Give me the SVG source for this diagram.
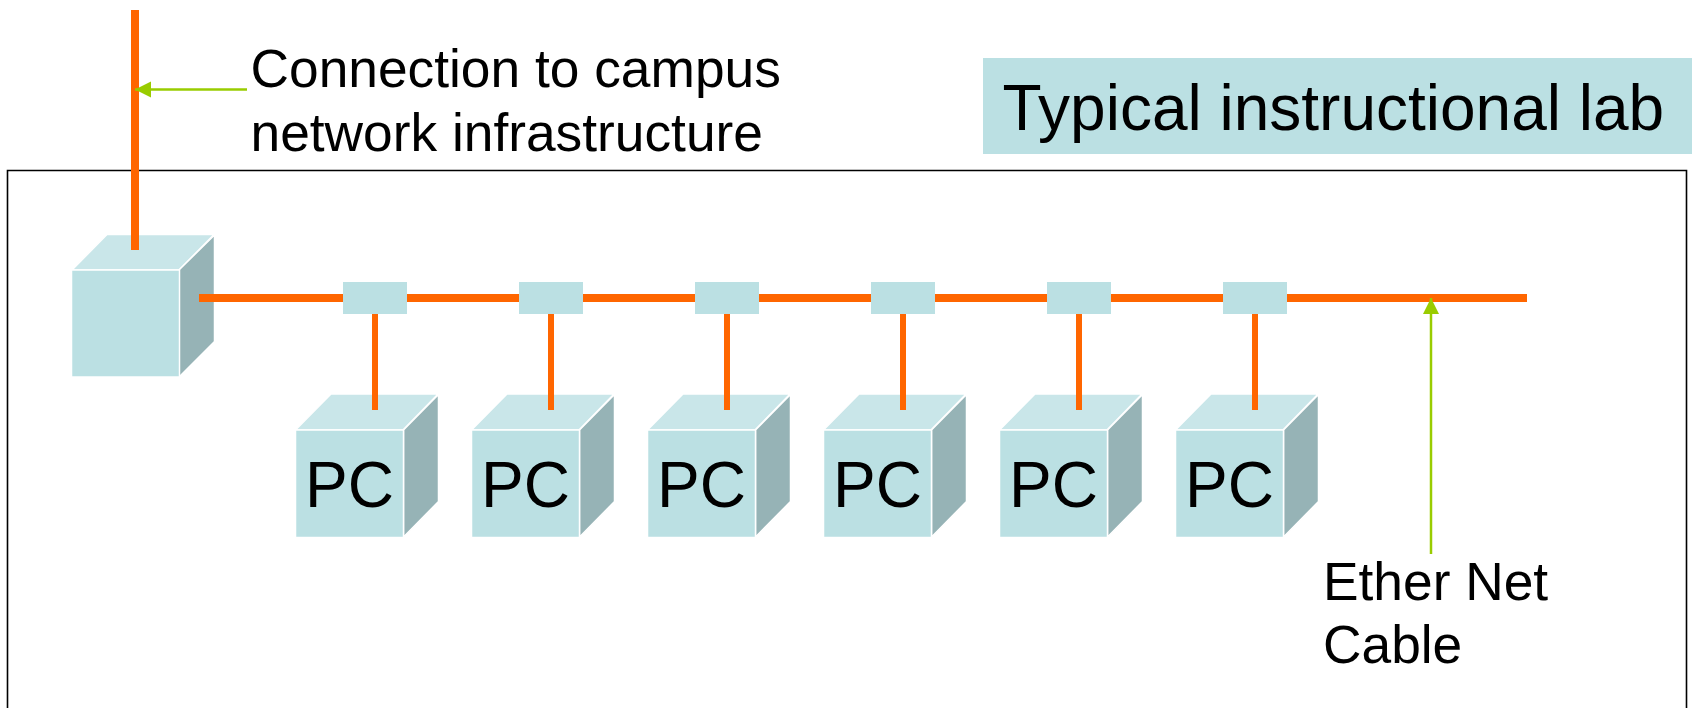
<svg xmlns="http://www.w3.org/2000/svg" width="1692" height="708" viewBox="0 0 1692 708">
<style>
text{font-family:"Liberation Sans",Arial,sans-serif;fill:#000}
.front{fill:#bbe0e3;stroke:#fff;stroke-width:1.5}
.top{fill:#c9e6e9;stroke:#fff;stroke-width:1.5}
.side{fill:#96b3b6;stroke:#fff;stroke-width:1.5}
.tap{fill:#bbe0e3}
.lbl{font-size:53.3px}
.pc{font-size:64px}
.cable{stroke:#f60;fill:none}
.pointer{stroke:#9c0;stroke-width:2.5;fill:none;marker-end:url(#ah)}
</style>
<defs>
<marker id="ah" markerUnits="userSpaceOnUse" markerWidth="18" markerHeight="18" refX="16" refY="8" orient="auto"><path d="M0,0L16,8L0,16Z" fill="#9c0"/></marker>
<g id="pcbox">
<polygon class="top" points="295.5,430 331,394 438,394 403,430"/>
<polygon class="side" points="403.5,430 438.5,394.5 438.5,501.5 403.5,537"/>
<rect class="front" x="295.5" y="430" width="108" height="107.5"/>
<text class="pc" x="305" y="506.5">PC</text>
</g>
</defs>
<rect width="1692" height="708" fill="#fff"/>
<path id="lab-frame" d="M7.5,708V170.5H1686.5V708" fill="none" stroke="#000" stroke-width="1.6"/>
<g id="title"><rect class="tap" x="983" y="58" width="709" height="96"/><text x="1002.5" y="130" font-size="64">Typical instructional lab</text></g>
<g id="campus-label"><text class="lbl" x="250.5" y="87">Connection to campus</text><text class="lbl" x="250.5" y="151">network infrastructure</text></g>
<g id="cable-label"><text class="lbl" x="1323" y="600">Ether Net</text><text class="lbl" x="1323" y="663">Cable</text></g>
<g id="switch">
<polygon class="top" points="72,270 107,234.5 214,234.5 179,270"/>
<polygon class="side" points="179,270 214.5,235 214.5,341.5 179,377"/>
<rect class="front" x="71.5" y="270" width="108" height="107"/>
</g>
<g id="pc1"><use href="#pcbox"/></g>
<g id="pc2" transform="translate(176 0)"><use href="#pcbox"/></g>
<g id="pc3" transform="translate(352 0)"><use href="#pcbox"/></g>
<g id="pc4" transform="translate(528 0)"><use href="#pcbox"/></g>
<g id="pc5" transform="translate(704 0)"><use href="#pcbox"/></g>
<g id="pc6" transform="translate(880 0)"><use href="#pcbox"/></g>
<g id="connectors">
<path class="cable" stroke-width="8" d="M135,10V250M199,298H1527"/>
<path class="cable" stroke-width="6" d="M375,314V410M551,314V410M727,314V410M903,314V410M1079,314V410M1255,314V410"/>
<path class="pointer" d="M247,89.5H135"/>
<path class="pointer" d="M1431,554V298"/>
</g>
<g id="tap1"><rect class="tap" x="343" y="282" width="64" height="32"/></g>
<g id="tap2"><rect class="tap" x="519" y="282" width="64" height="32"/></g>
<g id="tap3"><rect class="tap" x="695" y="282" width="64" height="32"/></g>
<g id="tap4"><rect class="tap" x="871" y="282" width="64" height="32"/></g>
<g id="tap5"><rect class="tap" x="1047" y="282" width="64" height="32"/></g>
<g id="tap6"><rect class="tap" x="1223" y="282" width="64" height="32"/></g>
</svg>
